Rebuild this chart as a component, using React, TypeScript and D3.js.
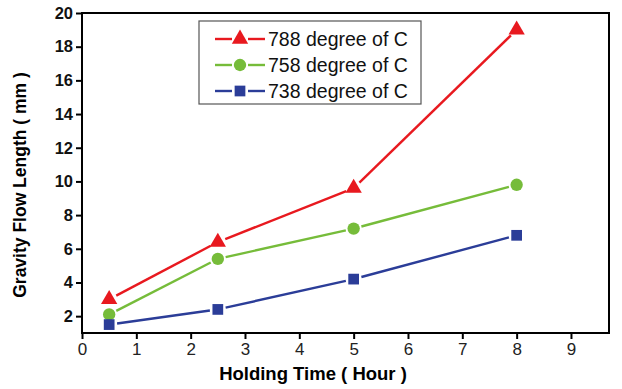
import * as d3 from 'd3';
import React, { useEffect, useRef } from 'react';

const hours = [0.5, 2.5, 5, 8];
const flow788 = [3.0, 6.4, 9.6, 19.0];
const flow758 = [2.1, 5.4, 7.2, 9.8];
const flow738 = [1.5, 2.4, 4.2, 6.8];
const seriesNames = ['788 degree of C', '758 degree of C', '738 degree of C'];
const xTicks = [0, 1, 2, 3, 4, 5, 6, 7, 8, 9];
const yTicks = [2, 4, 6, 8, 10, 12, 14, 16, 18, 20];

export default function App() {
  const svgRef = useRef<SVGSVGElement>(null);
  const width = 622;
  const height = 389;

  useEffect(() => {
    const svg = d3.select(svgRef.current);
    svg.selectAll('*').remove();

    const left = 82;
    const right = 609;
    const top = 13;
    const bottom = 333;

    const x = d3.scaleLinear().domain([0, 9.7]).range([left, right]);
    const y = d3.scaleLinear().domain([1, 20]).range([bottom, top]);

    const font = 'Liberation Sans, Arial, sans-serif';

    // frame top / right
    svg.append('path')
      .attr('d', `M${left},${top}H${right}V${bottom}`)
      .attr('fill', 'none')
      .attr('stroke', '#000')
      .attr('stroke-width', 2);

    // x axis
    const xAxis = svg.append('g').attr('transform', `translate(0,${bottom})`);
    xAxis.call(
      d3.axisBottom(x).tickValues(d3.range(0.5, 9.5, 1)).tickSize(3).tickFormat(() => '')
    );
    xAxis.call(d3.axisBottom(x).tickValues(xTicks).tickSize(6).tickPadding(4).tickFormat(d3.format('d')));
    xAxis.selectAll('.domain').remove();
    xAxis.selectAll('line').attr('stroke-width', 2);
    xAxis.selectAll('text')
      .attr('font-family', font)
      .attr('font-size', 17)
      .attr('fill', '#222');
    svg.append('line')
      .attr('x1', left - 1).attr('x2', right + 1)
      .attr('y1', bottom).attr('y2', bottom)
      .attr('stroke', '#000').attr('stroke-width', 2);

    // y axis
    const yAxis = svg.append('g').attr('transform', `translate(${left},0)`);
    yAxis.call(
      d3.axisLeft(y).tickValues(d3.range(1, 20, 2)).tickSize(3).tickFormat(() => '')
    );
    yAxis.call(d3.axisLeft(y).tickValues(yTicks).tickSize(6).tickPadding(3).tickFormat(d3.format('d')));
    yAxis.selectAll('.domain').remove();
    yAxis.selectAll('line').attr('stroke-width', 2);
    yAxis.selectAll('text')
      .attr('font-family', font)
      .attr('font-size', 16.5)
      .attr('font-weight', 'bold')
      .attr('fill', '#111');
    svg.append('line')
      .attr('x1', left).attr('x2', left)
      .attr('y1', top - 1).attr('y2', bottom + 1)
      .attr('stroke', '#000').attr('stroke-width', 2);

    // titles
    svg.append('text')
      .attr('x', 313)
      .attr('y', 380)
      .attr('text-anchor', 'middle')
      .attr('font-family', font)
      .attr('font-size', 18.5)
      .attr('font-weight', 'bold')
      .text('Holding Time ( Hour )');
    svg.append('text')
      .attr('transform', `translate(26,185) rotate(-90)`)
      .attr('text-anchor', 'middle')
      .attr('font-family', font)
      .attr('font-size', 17.5)
      .attr('font-weight', 'bold')
      .text('Gravity Flow Length ( mm )');

    const series = [
      { name: seriesNames[0], values: flow788, color: '#e8191f', shape: d3.symbolTriangle, size: 115 },
      { name: seriesNames[1], values: flow758, color: '#76bc3a', shape: d3.symbolCircle, size: 120 },
      { name: seriesNames[2], values: flow738, color: '#2b3d98', shape: d3.symbolSquare, size: 115 },
    ];

    const gap = 8;
    series.forEach((s) => {
      const pts = hours.map((h, i) => [x(h), y(s.values[i])]);
      for (let i = 0; i < pts.length - 1; i++) {
        const [x0, y0] = pts[i];
        const [x1, y1] = pts[i + 1];
        const len = Math.hypot(x1 - x0, y1 - y0);
        const ux = (x1 - x0) / len;
        const uy = (y1 - y0) / len;
        svg.append('line')
          .attr('x1', x0 + ux * gap).attr('y1', y0 + uy * gap)
          .attr('x2', x1 - ux * gap).attr('y2', y1 - uy * gap)
          .attr('stroke', s.color)
          .attr('stroke-width', 2.4);
      }
      svg.selectAll(null)
        .data(pts)
        .enter()
        .append('path')
        .attr('transform', (p) => `translate(${p[0]},${p[1]})`)
        .attr('d', d3.symbol().type(s.shape).size(s.size)())
        .attr('fill', s.color);
    });

    // legend
    const lg = svg.append('g');
    lg.append('rect')
      .attr('x', 199).attr('y', 21)
      .attr('width', 222).attr('height', 83)
      .attr('fill', '#fff')
      .attr('stroke', '#555')
      .attr('stroke-width', 1.2);
    series.forEach((s, i) => {
      const cy = 39 + i * 26;
      lg.append('line')
        .attr('x1', 215).attr('x2', 232).attr('y1', cy).attr('y2', cy)
        .attr('stroke', s.color).attr('stroke-width', 2.4);
      lg.append('line')
        .attr('x1', 248).attr('x2', 265).attr('y1', cy).attr('y2', cy)
        .attr('stroke', s.color).attr('stroke-width', 2.4);
      lg.append('path')
        .attr('transform', `translate(240,${cy})`)
        .attr('d', d3.symbol().type(s.shape).size(s.size)())
        .attr('fill', s.color);
      lg.append('text')
        .attr('x', 268).attr('y', cy)
        .attr('dy', '0.36em')
        .attr('font-family', font)
        .attr('font-size', 19.5)
        .attr('fill', '#111')
        .text(s.name);
    });
  }, []);

  return (
    <svg
      ref={svgRef}
      width={width}
      height={height}
      style={{ position: 'absolute', left: 0, top: 0, background: '#fff' }}
    />
  );
}
